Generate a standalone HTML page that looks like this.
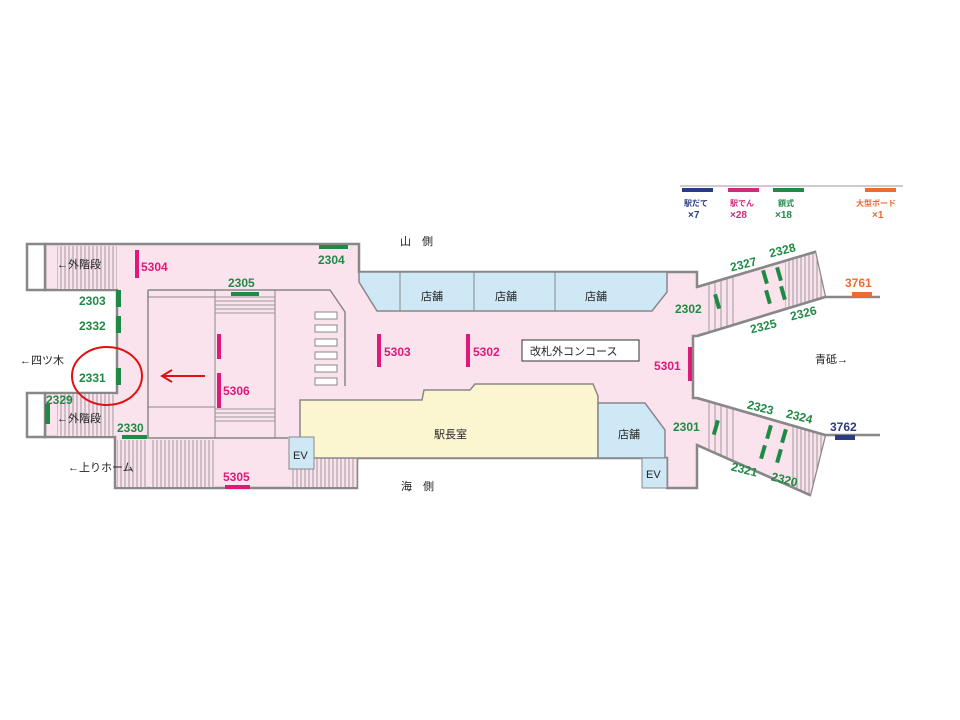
<!DOCTYPE html>
<html><head><meta charset="utf-8"><style>
html,body{margin:0;padding:0;background:#fff}
svg{display:block}
text{font-family:"Liberation Sans","Noto Sans CJK JP",sans-serif;font-weight:bold}
.g{fill:#1f8a45;font-size:12px}
.m{fill:#e0187a;font-size:12px}
.k{fill:#222;font-size:11px;font-weight:normal}
</style></head><body>
<svg width="960" height="720" viewBox="0 0 960 720" xmlns="http://www.w3.org/2000/svg">
<defs>
<pattern id="st" width="4" height="10" patternUnits="userSpaceOnUse"><rect width="4" height="10" fill="#fbe3ee"/><line x1="1" y1="0" x2="1" y2="10" stroke="#888" stroke-width="0.8"/></pattern>
<pattern id="st2" width="6" height="10" patternUnits="userSpaceOnUse"><rect width="6" height="10" fill="#fbe3ee"/><line x1="1" y1="0" x2="1" y2="10" stroke="#888" stroke-width="0.8"/></pattern>
<pattern id="sh" width="10" height="4" patternUnits="userSpaceOnUse"><rect width="10" height="4" fill="#fbe3ee"/><line x1="0" y1="1" x2="10" y2="1" stroke="#888" stroke-width="0.8"/></pattern>
<clipPath id="uw"><path d="M697,287 L815,252 L825,297 L697,336 Z"/></clipPath>
<clipPath id="lw"><path d="M697,398 L825,435 L810,495 L697,445 Z"/></clipPath>
</defs>
<!-- legend -->
<line x1="680" y1="186" x2="903" y2="186" stroke="#999" stroke-width="1"/>
<rect x="682" y="188" width="31" height="4" fill="#2b3a85"/>
<rect x="728" y="188" width="31" height="4" fill="#d02a7a"/>
<rect x="773" y="188" width="31" height="4" fill="#1f8a45"/>
<rect x="865" y="188" width="31" height="4" fill="#ee6a33"/>
<text x="684" y="206" font-size="8" fill="#2b3a85">駅だて</text>
<text x="688" y="218" font-size="10" fill="#2b3a85" font-weight="normal">×7</text>
<text x="730" y="206" font-size="8" fill="#d02a7a">駅でん</text>
<text x="730" y="218" font-size="10" fill="#d02a7a" font-weight="normal">×28</text>
<text x="778" y="206" font-size="8" fill="#1f8a45">額式</text>
<text x="775" y="218" font-size="10" fill="#1f8a45" font-weight="normal">×18</text>
<text x="856" y="206" font-size="8" fill="#ee6a33">大型ボード</text>
<text x="872" y="218" font-size="10" fill="#ee6a33" font-weight="normal">×1</text>

<!-- main hall -->
<path d="M45,244 L359,244 L359,272 L697,272 L697,287 L815,252 L825,297 L697,336 L693,336 L693,398 L697,398 L825,435 L810,495 L697,445 L697,488 L667,488 L667,458 L357,458 L357,488 L115,488 L115,437 L45,437 L45,393 L117,393 L117,290 L45,290 Z" fill="#fbe3ee" stroke="#888" stroke-width="2.5"/>
<!-- left boxes -->
<rect x="27" y="244" width="18" height="46" fill="#fff" stroke="#888" stroke-width="2.5"/>
<rect x="27" y="393" width="18" height="44" fill="#fff" stroke="#888" stroke-width="2.5"/>
<!-- stairs -->
<rect x="57" y="246" width="60" height="43" fill="url(#st)"/>
<rect x="57" y="394" width="58" height="42" fill="url(#st)"/>
<rect x="117" y="440" width="30" height="47" fill="url(#st)"/>
<rect x="150" y="440" width="65" height="47" fill="url(#st)"/>
<rect x="290" y="437" width="67" height="50" fill="url(#st)"/>
<g clip-path="url(#uw)">
<rect x="705" y="240" width="33" height="110" fill="url(#st2)"/>
<rect x="785" y="240" width="40" height="110" fill="url(#st)"/>
</g>
<g clip-path="url(#lw)">
<rect x="705" y="390" width="33" height="110" fill="url(#st2)"/>
<rect x="790" y="390" width="35" height="110" fill="url(#st)"/>
</g>
<line x1="697" y1="287" x2="815" y2="252" stroke="#888" stroke-width="2.5"/>
<line x1="697" y1="336" x2="825" y2="297" stroke="#888" stroke-width="2.5"/>
<line x1="697" y1="398" x2="825" y2="435" stroke="#888" stroke-width="2.5"/>
<line x1="697" y1="445" x2="810" y2="495" stroke="#888" stroke-width="2.5"/>
<line x1="825" y1="297" x2="880" y2="297" stroke="#888" stroke-width="2.5"/>
<line x1="825" y1="435" x2="880" y2="435" stroke="#888" stroke-width="2.5"/>
<!-- inner block -->
<path d="M148,290 L330,290 L345,312 L345,386 M148,290 L148,438 L288,438" fill="none" stroke="#888" stroke-width="1.5"/>
<rect x="148" y="297" width="67" height="110" fill="none" stroke="#888" stroke-width="1"/>
<rect x="215" y="296" width="60" height="20" fill="url(#sh)"/>
<rect x="215" y="408" width="60" height="14" fill="url(#sh)"/>
<line x1="215" y1="290" x2="215" y2="438" stroke="#888"/>
<line x1="275" y1="290" x2="275" y2="438" stroke="#888"/>
<g fill="#fff" stroke="#888" stroke-width="1"><rect x="315" y="312" width="22" height="7"/><rect x="315" y="325" width="22" height="7"/><rect x="315" y="339" width="22" height="7"/><rect x="315" y="352" width="22" height="7"/><rect x="315" y="365" width="22" height="7"/><rect x="315" y="378" width="22" height="7"/></g>
<!-- shops -->
<path d="M359,272 L667,272 L667,292 L652,311 L377,311 L359,282 Z" fill="#cfe8f6" stroke="#888" stroke-width="1.5"/>
<line x1="400" y1="272" x2="400" y2="311" stroke="#888"/><line x1="474" y1="272" x2="474" y2="311" stroke="#888"/><line x1="555" y1="272" x2="555" y2="311" stroke="#888"/>
<path d="M300,400 L422,400 L424,390 L470,390 L475,384 L593,384 L598,396 L598,458 L300,458 Z" fill="#fbf6cf" stroke="#888" stroke-width="1.5"/>
<path d="M598,403 L645,403 L665,430 L665,458 L598,458 Z" fill="#cfe8f6" stroke="#888" stroke-width="1.5"/>
<rect x="289" y="437" width="25" height="32" fill="#cfe8f6" stroke="#888"/>
<rect x="642" y="458" width="25" height="30" fill="#cfe8f6" stroke="#888"/>
<rect x="522" y="340" width="117" height="21" fill="#fff" stroke="#333"/>
<!-- labels -->
<text x="421" y="300" class="k">店舗</text><text x="495" y="300" class="k">店舗</text><text x="585" y="300" class="k">店舗</text>
<text x="618" y="438" class="k">店舗</text><text x="434" y="438" class="k">駅長室</text>
<text x="293" y="459" class="k">EV</text><text x="646" y="478" class="k">EV</text>
<text x="530" y="355" class="k">改札外コンコース</text>
<text x="400" y="245" class="k">山　側</text><text x="401" y="490" class="k">海　側</text>
<text x="57" y="268" class="k">←外階段</text><text x="57" y="422" class="k">←外階段</text>
<text x="20" y="364" class="k">←四ツ木</text><text x="68" y="471" class="k">←上りホーム</text>
<text x="815" y="363" class="k">青砥→</text>
<!-- signs -->
<g fill="#1f8a45">
<rect x="319" y="245" width="29" height="4"/><rect x="231" y="292" width="28" height="4"/>
<rect x="116" y="290" width="5" height="17"/><rect x="116" y="316" width="5" height="17"/><rect x="116" y="368" width="5" height="17"/>
<rect x="45" y="404" width="5" height="20"/><rect x="122" y="435" width="25" height="4"/>
<rect x="715" y="294" width="4" height="15" transform="rotate(-16 717 301)"/>
<rect x="714" y="420" width="4" height="15" transform="rotate(16 716 427)"/>
<rect x="763" y="270" width="4" height="14" transform="rotate(-16 765 277)"/><rect x="777" y="267" width="4" height="14" transform="rotate(-16 779 274)"/>
<rect x="766" y="290" width="4" height="14" transform="rotate(-16 768 297)"/><rect x="781" y="286" width="4" height="14" transform="rotate(-16 783 293)"/>
<rect x="767" y="425" width="4" height="14" transform="rotate(16 769 432)"/><rect x="782" y="429" width="4" height="14" transform="rotate(16 784 436)"/>
<rect x="761" y="445" width="4" height="14" transform="rotate(16 763 452)"/><rect x="777" y="449" width="4" height="14" transform="rotate(16 779 456)"/>
</g>
<g fill="#e0187a">
<rect x="135" y="250" width="4" height="28"/><rect x="217" y="334" width="4" height="25"/><rect x="217" y="373" width="4" height="35"/>
<rect x="377" y="334" width="4" height="33"/><rect x="466" y="334" width="4" height="33"/><rect x="688" y="347" width="4" height="34"/>
<rect x="225" y="485" width="25" height="4"/>
</g>
<rect x="852" y="292" width="20" height="5" fill="#ee6a33"/>
<rect x="835" y="435" width="20" height="5" fill="#2b3a85"/>
<text x="318" y="264" class="g">2304</text><text x="228" y="287" class="g">2305</text>
<text x="79" y="305" class="g">2303</text><text x="79" y="330" class="g">2332</text><text x="79" y="382" class="g">2331</text>
<text x="46" y="404" class="g">2329</text><text x="117" y="432" class="g">2330</text>
<text x="675" y="313" class="g">2302</text><text x="673" y="431" class="g">2301</text>
<text x="730" y="268" class="g" transform="rotate(-14 745 264)">2327</text><text x="769" y="254" class="g" transform="rotate(-14 784 250)">2328</text>
<text x="750" y="330" class="g" transform="rotate(-14 765 326)">2325</text><text x="790" y="317" class="g" transform="rotate(-14 805 313)">2326</text>
<text x="747" y="412" class="g" transform="rotate(14 762 408)">2323</text><text x="786" y="421" class="g" transform="rotate(14 801 417)">2324</text>
<text x="731" y="474" class="g" transform="rotate(14 746 470)">2321</text><text x="771" y="484" class="g" transform="rotate(14 786 480)">2320</text>
<text x="141" y="271" class="m">5304</text><text x="223" y="395" class="m">5306</text><text x="384" y="356" class="m">5303</text>
<text x="473" y="356" class="m">5302</text><text x="654" y="370" class="m">5301</text><text x="223" y="481" class="m">5305</text>
<text x="845" y="287" font-size="12" fill="#ee6a33">3761</text><text x="830" y="431" font-size="12" fill="#2b3a85">3762</text>
<!-- annotation -->
<ellipse cx="107" cy="376" rx="35" ry="29" fill="none" stroke="#e01010" stroke-width="2"/>
<line x1="164" y1="376" x2="205" y2="376" stroke="#e01010" stroke-width="2"/>
<path d="M172,370 L162,376 L172,382" fill="none" stroke="#e01010" stroke-width="2"/>
</svg>
</body></html>
